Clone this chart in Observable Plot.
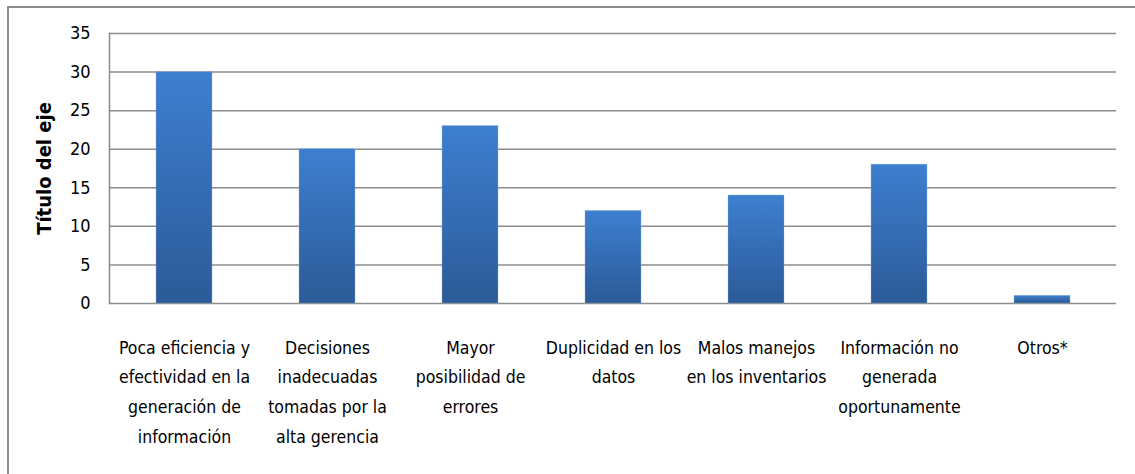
<!DOCTYPE html>
<html>
<head>
<meta charset="utf-8">
<script src="https://cdn.jsdelivr.net/npm/d3@7"></script>
<script src="https://cdn.jsdelivr.net/npm/@observablehq/plot@0.6"></script>
<style>
  html, body { margin: 0; padding: 0; background: #fff; }
  #wrap { position: relative; width: 1135px; height: 474px; overflow: hidden; }
  #frame { position: absolute; left: 7px; top: 6px; width: 1140px; height: 480px;
           border-left: 2px solid #8c8c8c; border-top: 2px solid #8c8c8c; box-sizing: border-box; }
  #chart { position: absolute; left: 0; top: 0; }
</style>
</head>
<body>
<div id="wrap"><div id="frame"></div><div id="chart"></div></div>
<script>
const categories = ["c1", "c2", "c3", "c4", "c5", "c6", "c7"];
const labels = [
  "Poca eficiencia y\nefectividad en la\ngeneración de\ninformación",
  "Decisiones\ninadecuadas\ntomadas por la\nalta gerencia",
  "Mayor\nposibilidad de\nerrores",
  "Duplicidad en los\ndatos",
  "Malos manejos\nen los inventarios",
  "Información no\ngenerada\noportunamente",
  "Otros*"
];
const values = [30, 20, 23, 12, 14, 18, 1];
const yTicks = [0, 5, 10, 15, 20, 25, 30, 35];
const yTitle = "Título del eje";

const data = categories.map((c, i) => ({cat: c, label: labels[i], value: values[i]}));
const labelOf = new Map(data.map(d => [d.cat, d.label]));
const font = "'DejaVu Sans Condensed', 'Liberation Sans Narrow', sans-serif";

const chart = Plot.plot({
  width: 1135,
  height: 474,
  marginLeft: 109,
  marginRight: 19,
  marginTop: 33,
  marginBottom: 171,
  style: {fontFamily: font, fontSize: "17px", color: "#000", background: "transparent"},
  x: {domain: categories, paddingInner: 0.61, paddingOuter: 0.305},
  y: {domain: [0, 35]},
  marks: [
    Plot.gridY(yTicks, {stroke: "#8c8c8c", strokeOpacity: 1, strokeWidth: 1.5}),
    Plot.frame({anchor: "left", stroke: "#8c8c8c", strokeWidth: 1.5}),
    Plot.barY(data, {x: "cat", y: "value", fill: "url(#barGrad)", stroke: "#8fb3e0", strokeWidth: 0.6, strokeOpacity: 0.6}),
    Plot.axisY(yTicks, {tickSize: 0, tickPadding: 19, fontSize: 18, label: null}),
    Plot.axisX({tickSize: 0, tickPadding: 29, tickFormat: d => labelOf.get(d), fontSize: 17.5, lineHeight: 1.7, label: null}),
    Plot.text([yTitle], {frameAnchor: "left", textAnchor: "middle", rotate: -90, dx: -65, fontWeight: "bold", fontSize: 20, fontFamily: "'DejaVu Sans Condensed', sans-serif"})
  ]
});

const defs = document.createElementNS("http://www.w3.org/2000/svg", "defs");
defs.innerHTML = `<linearGradient id="barGrad" x1="0" y1="0" x2="0" y2="1">
  <stop offset="0" stop-color="#3d7fd0"/>
  <stop offset="1" stop-color="#2c5a97"/>
</linearGradient>`;
chart.insertBefore(defs, chart.firstChild);
document.getElementById("chart").appendChild(chart);
</script>
</body>
</html>
